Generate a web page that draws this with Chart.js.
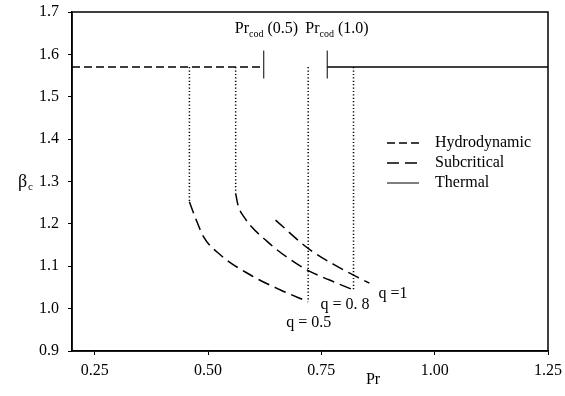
<!DOCTYPE html>
<html>
<head>
<meta charset="utf-8">
<script src="https://cdn.jsdelivr.net/npm/chart.js@4"></script>
<style>
  html, body { margin: 0; padding: 0; background: #fff; }
</style>
</head>
<body>
<canvas id="chart" width="565" height="396"></canvas>
<script>
// tick values
const xTicks = [0.25, 0.5, 0.75, 1.0, 1.25];
const yTicks = [0.9, 1.0, 1.1, 1.2, 1.3, 1.4, 1.5, 1.6, 1.7];

// critical lines (beta_c = pi/2)
const hydroX = [0.2, 0.623];
const hydroY = [1.57, 1.57];
const thermalX = [0.763, 1.25];
const thermalY = [1.57, 1.57];
const prCod = [0.623, 0.763];
const prCodLabels = ['(0.5)', '(1.0)'];
const codTickY = [1.543, 1.609];

// subcritical curves
const q05x = [0.459, 0.472, 0.490, 0.527, 0.601, 0.660, 0.721];
const q05y = [1.252, 1.215, 1.170, 1.127, 1.075, 1.044, 1.016];
const q08x = [0.561, 0.566, 0.579, 0.631, 0.712, 0.767, 0.821];
const q08y = [1.272, 1.245, 1.217, 1.158, 1.095, 1.068, 1.044];
const q1x = [0.649, 0.721, 0.786, 0.856];
const q1y = [1.209, 1.142, 1.099, 1.060];
const qLabels = ['q = 0.5', 'q = 0. 8', 'q =1'];

// dotted drops from pi/2 down to the curves
const dropX = [0.459, 0.561, 0.721, 0.821];
const dropBottom = [1.252, 1.272, 1.016, 1.044];

const legendNames = ['Hydrodynamic', 'Subcritical', 'Thermal'];

const hydroDash = [8, 4];
const subDash = [12, 6];
const SERIF = '"Liberation Serif", "Times New Roman", serif';

const pts = (xs, ys) => xs.map((x, i) => ({ x: x, y: ys[i] }));

const datasets = [];
datasets.push({ data: pts(hydroX, hydroY), borderDash: hydroDash, tension: 0 });
datasets.push({ data: pts(thermalX, thermalY), borderDash: [], tension: 0 });
prCod.forEach(x => {
  datasets.push({ data: pts([x, x], codTickY), borderDash: [], borderWidth: 1, tension: 0 });
});
dropX.forEach((x, i) => {
  datasets.push({ data: pts([x, x], [1.57, dropBottom[i]]), borderDash: [1.2, 2.2], borderWidth: 1.5, tension: 0 });
});
[[q05x, q05y], [q08x, q08y], [q1x, q1y]].forEach(([xs, ys]) => {
  datasets.push({ data: pts(xs, ys), borderDash: subDash, cubicInterpolationMode: 'monotone' });
});

// no label overflow padding, the layout padding decides the plot box
const noPad = s => { s.paddingTop = 0; s.paddingBottom = 0; s.paddingLeft = 0; s.paddingRight = 0; };

const extras = {
  id: 'extras',
  afterDraw(chart) {
    const ctx = chart.ctx;
    const xs = chart.scales.x, ys = chart.scales.y;
    const a = chart.chartArea;
    ctx.save();
    // frame
    ctx.strokeStyle = '#000';
    ctx.lineWidth = 1.5;
    ctx.strokeRect(a.left, a.top, a.right - a.left, a.bottom - a.top);

    ctx.fillStyle = '#000';
    ctx.textBaseline = 'alphabetic';

    // Pr_cod labels
    const codShift = [-29, -22];
    prCod.forEach((v, i) => {
      const px = xs.getPixelForValue(v);
      let x = px + codShift[i];
      ctx.font = '16px ' + SERIF;
      ctx.textAlign = 'left';
      ctx.fillText('Pr', x, 33);
      x += ctx.measureText('Pr').width;
      ctx.font = '10px ' + SERIF;
      ctx.fillText('cod', x, 37);
      x += ctx.measureText('cod').width + 4;
      ctx.font = '16px ' + SERIF;
      ctx.fillText(prCodLabels[i], x, 33);
    });

    // q labels
    ctx.font = '16px ' + SERIF;
    ctx.textAlign = 'left';
    const qPos = [[q05x, q05y, -22, 20], [q08x, q08y, -33, 14], [q1x, q1y, 9, 10]];
    qPos.forEach(([xv, yv, dx, dy], i) => {
      const n = xv.length - 1;
      const px = xs.getPixelForValue(xv[n]);
      const py = ys.getPixelForValue(yv[n]);
      ctx.fillText(qLabels[i], px + dx, py + dy + 5);
    });

    // legend
    const dashes = [hydroDash, subDash, []];
    legendNames.forEach((name, i) => {
      const y = 143 + i * 20;
      ctx.beginPath();
      ctx.setLineDash(dashes[i]);
      ctx.lineWidth = i === 2 ? 1 : 1.5;
      ctx.moveTo(387, y);
      ctx.lineTo(419, y);
      ctx.stroke();
      ctx.setLineDash([]);
      ctx.font = '16px ' + SERIF;
      ctx.textBaseline = 'middle';
      ctx.fillText(name, 435, y);
    });

    // axis titles
    ctx.textBaseline = 'alphabetic';
    ctx.font = '16px ' + SERIF;
    ctx.textAlign = 'center';
    ctx.fillText('Pr', 373, 384);
    ctx.textAlign = 'left';
    ctx.font = '18px ' + SERIF;
    ctx.fillText('\u03B2', 18, 187);
    ctx.font = '11px ' + SERIF;
    ctx.fillText('c', 28, 190);
    ctx.restore();
  }
};

new Chart(document.getElementById('chart'), {
  type: 'line',
  data: { datasets: datasets.map(d => Object.assign({
    borderColor: '#000',
    borderWidth: 1.5,
    pointRadius: 0,
    fill: false
  }, d)) },
  options: {
    responsive: false,
    devicePixelRatio: 1,
    animation: false,
    layout: { padding: { left: 0, top: 12, right: 17, bottom: 0 } },
    plugins: { legend: { display: false }, tooltip: { enabled: false } },
    scales: {
      x: {
        type: 'linear',
        min: 0.2,
        max: 1.25,
        afterBuildTicks: s => { s.ticks = xTicks.map(v => ({ value: v })); },
        afterFit: s => { s.height = 45; noPad(s); },
        border: { color: '#000', width: 1.5 },
        grid: { drawOnChartArea: false, color: '#000', tickLength: 4, tickWidth: 1 },
        ticks: {
          color: '#000',
          padding: 6,
          maxRotation: 0,
          font: { family: SERIF, size: 16 },
          callback: v => v.toFixed(2)
        }
      },
      y: {
        type: 'linear',
        min: 0.9,
        max: 1.7,
        afterBuildTicks: s => { s.ticks = yTicks.map(v => ({ value: v })); },
        afterFit: s => { s.width = 72; noPad(s); },
        border: { color: '#000', width: 1.5 },
        grid: { drawOnChartArea: false, color: '#000', tickLength: 4, tickWidth: 1 },
        ticks: {
          color: '#000',
          padding: 9,
          font: { family: SERIF, size: 16 },
          callback: v => v.toFixed(1)
        }
      }
    }
  },
  plugins: [extras]
});
</script>
</body>
</html>
